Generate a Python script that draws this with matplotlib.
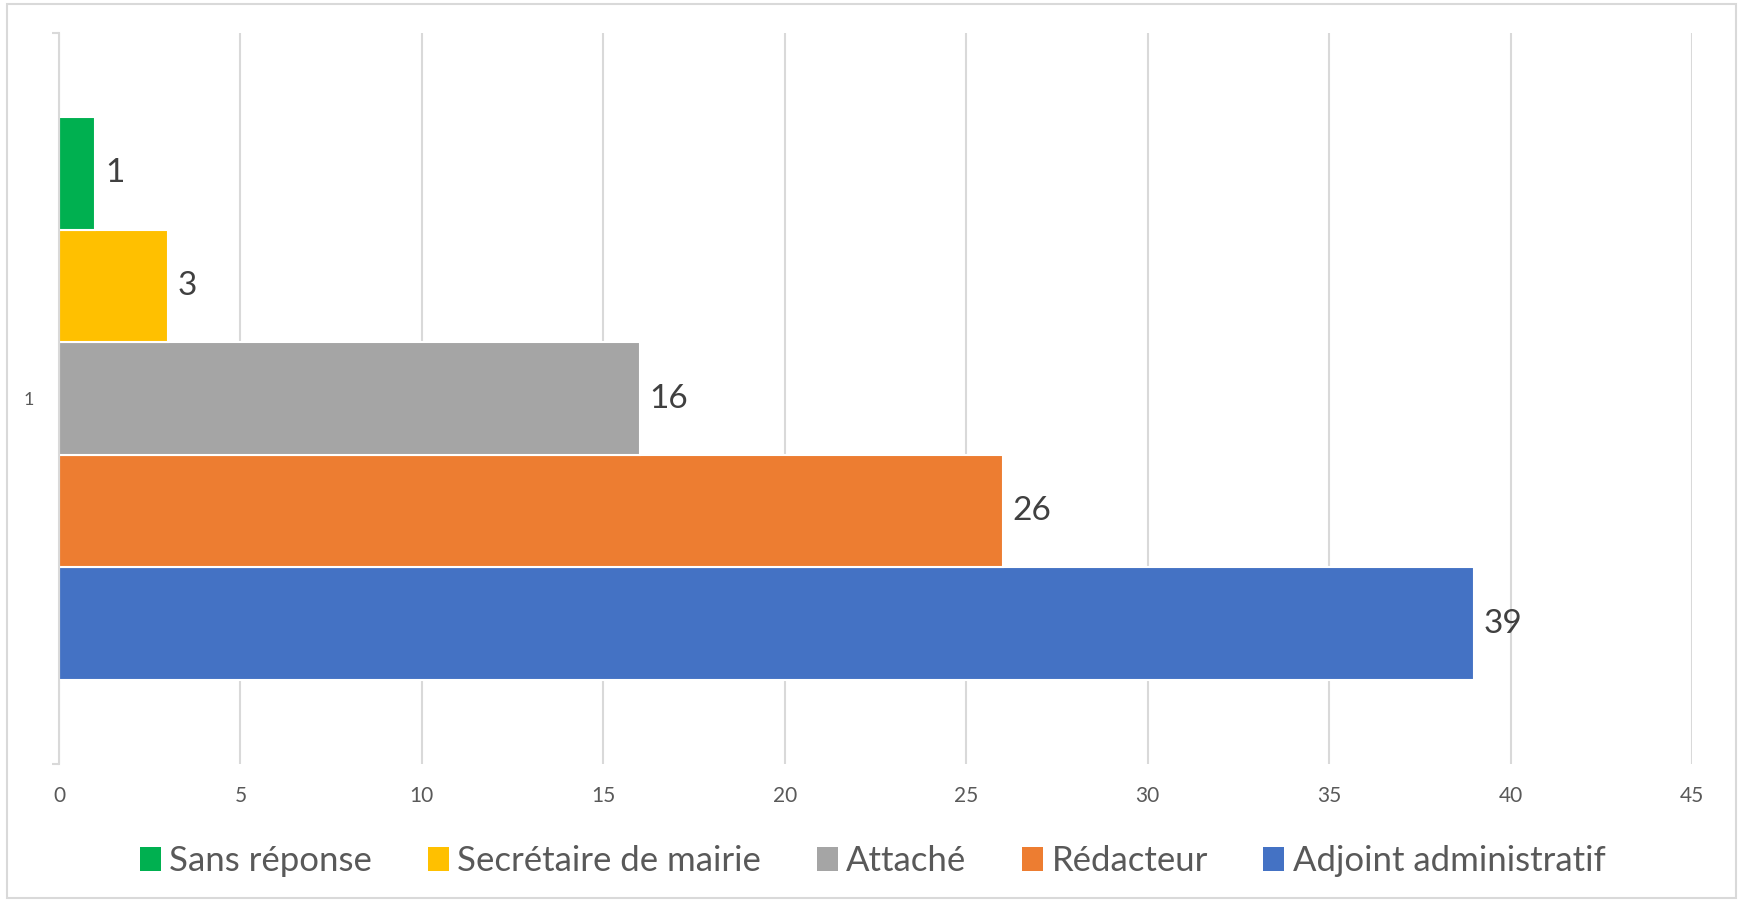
import matplotlib
matplotlib.use("Agg")
import matplotlib.pyplot as plt
from matplotlib.patches import Patch, Rectangle
import numpy as np

plt.rcParams['font.family'] = ['Lato', 'DejaVu Sans']

# Data (bottom to top in the chart)
series = ["Adjoint administratif", "Rédacteur", "Attaché", "Secrétaire de mairie", "Sans réponse"]
values = [39, 26, 16, 3, 1]
colors = ["#4472C4", "#ED7D31", "#A5A5A5", "#FFC000", "#00B050"]
category = ["1"]
legend_order = ["Sans réponse", "Secrétaire de mairie", "Attaché", "Rédacteur", "Adjoint administratif"]
xticks = [0, 5, 10, 15, 20, 25, 30, 35, 40, 45]

fig = plt.figure(figsize=(17.42, 9.02), dpi=100)
ax = fig.add_axes([59/1742, 1-764/902, (1692-59)/1742, (764-33)/902])

n = len(series)
group = 0.77
bw = group / n
for i, (s, v, c) in enumerate(zip(series, values, colors)):
    y = 0 + (i - (n - 1) / 2) * bw
    ax.barh(y, v, height=bw, color=c, edgecolor="white", linewidth=1.5, zorder=3)
    ax.annotate(str(v), xy=(v, y), xytext=(7, 0), textcoords="offset points",
                va="center", ha="left", fontsize=24, color="#404040")

ax.set_xlim(0, 45)
ax.set_ylim(-0.5, 0.5)
ax.set_xticks(xticks)
ax.set_xticklabels([str(t) for t in xticks], fontsize=15, color="#595959")
ax.tick_params(axis="x", length=0, pad=16)
ax.grid(axis="x", color="#D9D9D9", linewidth=1.5, zorder=0)

ax.set_yticks([-0.5, 0.5])
ax.set_yticklabels(["", ""])
ax.tick_params(axis="y", which="major", length=5, color="#D9D9D9", width=1.5)
ax.set_yticks([0], minor=True)
ax.set_yticklabels(category, minor=True, fontsize=13, color="#595959")
ax.tick_params(axis="y", which="minor", length=0, pad=18)

for sp in ["top", "right", "bottom"]:
    ax.spines[sp].set_visible(False)
ax.spines["left"].set_color("#D9D9D9")
ax.spines["left"].set_linewidth(1.5)
ax.spines["left"].set_zorder(4)

cmap = dict(zip(series, colors))
handles = [Patch(facecolor=cmap[s], edgecolor="none") for s in legend_order]
fig.legend(handles, legend_order, loc="center", bbox_to_anchor=(0.501, 0.045),
           ncol=5, frameon=False, fontsize=25, handlelength=0.6, handleheight=0.7,
           handletextpad=0.25, columnspacing=1.6, labelcolor="#595959")

fig.patches.append(Rectangle((7/1742, 1-898/902), (1736-7)/1742, (898-4)/902,
                             transform=fig.transFigure, fill=False,
                             edgecolor="#D9D9D9", linewidth=1.5))

fig.savefig("out.png", dpi=100, facecolor="white")
